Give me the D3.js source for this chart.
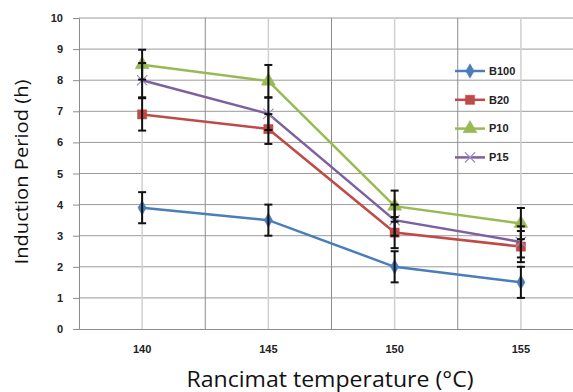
<!DOCTYPE html>
<html>
<head>
<meta charset="utf-8">
<script src="https://cdn.jsdelivr.net/npm/d3@7"></script>
<style>
  body { margin: 0; background: #fff; }
  text { font-family: "Open Sans", "Liberation Sans", sans-serif; }
</style>
</head>
<body>
<div id="graph"></div>
<script>
// data
var temps = ["140", "145", "150", "155"];
var seriesNames = ["B100", "B20", "P10", "P15"];
var b100 = [3.9, 3.5, 2.0, 1.5];
var b20 = [6.9, 6.43, 3.1, 2.65];
var p10 = [8.5, 7.97, 3.95, 3.39];
var p15 = [8.0, 6.92, 3.5, 2.8];
var errB100 = [0.5, 0.5, 0.5, 0.5];
var errB20 = [0.52, 0.48, 0.5, 0.5];
var errP10 = [0.48, 0.52, 0.5, 0.5];
var errP15 = [0.55, 0.52, 0.5, 0.5];
var yTicks = [0, 1, 2, 3, 4, 5, 6, 7, 8, 9, 10];
var colors = ["#4a7ebb", "#be4b48", "#98b954", "#7d60a0"];

var allVals = [b100, b20, p10, p15];
var allErr = [errB100, errB20, errP10, errP15];

var W = 573, H = 392;
var mLeft = 79, mRight = 584, mTop = 18, mBottom = 329;

var svg = d3.select("#graph")
  .append("svg")
    .attr("width", W)
    .attr("height", H)

var x = d3.scaleBand().domain(temps).range([mLeft, mRight]).padding(0)
var y = d3.scaleLinear().domain([0, 10]).range([mBottom, mTop])

// horizontal grid
svg.append("g")
  .selectAll("line")
  .data(yTicks.slice(1))
  .enter()
  .append("line")
    .attr("x1", mLeft).attr("x2", mRight)
    .attr("y1", function(d){ return y(d) }).attr("y2", function(d){ return y(d) })
    .style("stroke", "#9a9a9a")
    .style("stroke-width", 1)

// vertical grid: at category centres (light) and boundaries (dark)
svg.append("g")
  .selectAll("line")
  .data(temps)
  .enter()
  .append("line")
    .attr("x1", function(d){ return x(d) + x.bandwidth()/2 })
    .attr("x2", function(d){ return x(d) + x.bandwidth()/2 })
    .attr("y1", mTop).attr("y2", mBottom)
    .style("stroke", "#d0d0d0")
    .style("stroke-width", 1.5)

svg.append("g")
  .selectAll("line")
  .data(temps.slice(1).concat(["end"]))
  .enter()
  .append("line")
    .attr("x1", function(d){ return d == "end" ? mRight : x(d) })
    .attr("x2", function(d){ return d == "end" ? mRight : x(d) })
    .attr("y1", mTop).attr("y2", mBottom)
    .style("stroke", "#8c8c8c")
    .style("stroke-width", 1)

// axes
var yAxis = svg.append("g")
  .attr("transform", "translate(" + mLeft + ",0)")
  .call(d3.axisLeft(y).tickValues(yTicks).tickSize(6).tickPadding(10))
yAxis.select(".domain").style("stroke", "#8c8c8c")
yAxis.selectAll(".tick line").style("stroke", "#8c8c8c")
yAxis.selectAll("text")
  .style("font-size", "11px").style("font-weight", "bold").style("fill", "#222")
  .style("font-family", "'Liberation Sans', sans-serif")

var xAxis = svg.append("g")
  .attr("transform", "translate(0," + mBottom + ")")
  .call(d3.axisBottom(x).tickSize(0).tickPadding(16))
xAxis.select(".domain").style("stroke", "#8c8c8c")
xAxis.selectAll("text")
  .style("font-size", "11px").style("font-weight", "bold").style("fill", "#222")
  .style("font-family", "'Liberation Sans', sans-serif")

// lines
var line = d3.line()
  .x(function(d, i){ return x(temps[i]) + x.bandwidth()/2 })
  .y(function(d){ return y(d) })

svg.append("g")
  .selectAll("path")
  .data(allVals)
  .enter()
  .append("path")
    .attr("d", line)
    .style("fill", "none")
    .style("stroke", function(d, i){ return colors[i] })
    .style("stroke-width", 2.5)

// markers
var symbols = [d3.symbolDiamond, d3.symbolSquare, d3.symbolTriangle, d3.symbolX];
var sizes = [60, 85, 85, 70];

function drawMarker(g, k) {
  g.append("path")
    .attr("d", d3.symbol().type(symbols[k]).size(sizes[k]))
    .style("fill", k == 3 ? "none" : colors[k])
    .style("stroke", k == 3 ? "#a08cc0" : colors[k])
    .style("stroke-width", k == 3 ? 1.2 : 0.5)
}

allVals.forEach(function(vals, k) {
  vals.forEach(function(v, i) {
    var g = svg.append("g")
      .attr("transform", "translate(" + (x(temps[i]) + x.bandwidth()/2) + "," + y(v) + ")")
    drawMarker(g, k)
  })
})

// error bars
allVals.forEach(function(vals, k) {
  var eg = svg.append("g")
  vals.forEach(function(v, i) {
    var cx = x(temps[i]) + x.bandwidth()/2
    var e = allErr[k][i]
    eg.append("line")
      .attr("x1", cx).attr("x2", cx)
      .attr("y1", y(v + e)).attr("y2", y(v - e))
      .style("stroke", "#111").style("stroke-width", 2)
    ;[v + e, v - e].forEach(function(c) {
      eg.append("line")
        .attr("x1", cx - 4).attr("x2", cx + 4)
        .attr("y1", y(c)).attr("y2", y(c))
        .style("stroke", "#111").style("stroke-width", 2)
    })
  })
})

// legend
var legend = svg.append("g")
  .selectAll("g")
  .data(seriesNames)
  .enter()
  .append("g")
    .attr("transform", function(d, i){ return "translate(455," + (71 + i * 28.8) + ")" })

legend.append("line")
  .attr("x1", 0).attr("x2", 30)
  .style("stroke", function(d, i){ return colors[i] })
  .style("stroke-width", 2.5)

legend.each(function(d, i) {
  var g = d3.select(this).append("g").attr("transform", "translate(15,0)")
  drawMarker(g, i)
})

legend.append("text")
  .attr("x", 34)
  .attr("dy", "0.35em")
  .style("font-size", "11px")
  .style("font-weight", "bold")
  .style("fill", "#222")
  .style("font-family", "'Liberation Sans', sans-serif")
  .text(function(d){ return d })

// axis titles
svg.append("text")
  .attr("transform", "translate(28,172) rotate(-90)")
  .attr("text-anchor", "middle")
  .attr("textLength", 185)
  .attr("lengthAdjust", "spacingAndGlyphs")
  .style("font-size", "19px")
  .style("fill", "#111")
  .text("Induction Period (h)")

svg.append("text")
  .attr("x", 330)
  .attr("y", 387)
  .attr("text-anchor", "middle")
  .attr("textLength", 287)
  .attr("lengthAdjust", "spacingAndGlyphs")
  .style("font-size", "21px")
  .style("fill", "#111")
  .text("Rancimat temperature (°C)")
</script>
</body>
</html>
